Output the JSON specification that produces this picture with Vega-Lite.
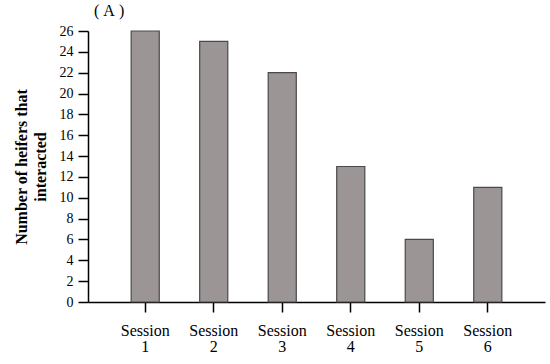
{
  "$schema": "https://vega.github.io/schema/vega-lite/v6.json",
  "width": 457,
  "height": 271,
  "autosize": {"type": "none"},
  "padding": {"left": 88, "top": 31, "right": 5, "bottom": 62},
  "background": "white",
  "data": {"values": [
    {"session": "Session 1", "count": 26},
    {"session": "Session 2", "count": 25},
    {"session": "Session 3", "count": 22},
    {"session": "Session 4", "count": 13},
    {"session": "Session 5", "count": 6},
    {"session": "Session 6", "count": 11}
  ]},
  "title": {
    "text": "(\u00a0A\u00a0)",
    "font": "Liberation Serif",
    "fontSize": 16,
    "fontWeight": "normal",
    "color": "#000",
    "anchor": "start",
    "frame": "group",
    "dx": 6,
    "offset": 5
  },
  "config": {
    "view": {"stroke": null},
    "axis": {"grid": false, "labelFont": "Liberation Serif", "titleFont": "Liberation Serif", "labelColor": "#000", "titleColor": "#000", "domainColor": "#000", "tickColor": "#000", "domainWidth": 1.5, "tickWidth": 1.5}
  },
  "mark": {"type": "bar", "color": "#9b9595", "stroke": "#4a4a4a", "strokeWidth": 1.2},
  "encoding": {
    "x": {
      "field": "session", "type": "nominal", "sort": null,
      "scale": {"paddingInner": 0.59, "paddingOuter": 0.63},
      "axis": {"title": null, "labelAngle": 0, "labelFontSize": 16, "labelPadding": 10, "tickSize": 10, "labelExpr": "split(datum.label, ' ')", "labelLineHeight": 16}
    },
    "y": {
      "field": "count", "type": "quantitative",
      "scale": {"domain": [0, 26], "nice": false},
      "axis": {"values": [0,2,4,6,8,10,12,14,16,18,20,22,24,26], "title": ["Number of heifers that", "interacted"], "titleFontSize": 16, "titleFontWeight": "bold", "titleLineHeight": 19, "labelFontSize": 14, "tickSize": 10, "labelPadding": 5, "titlePadding": 11}
    }
  }
}
